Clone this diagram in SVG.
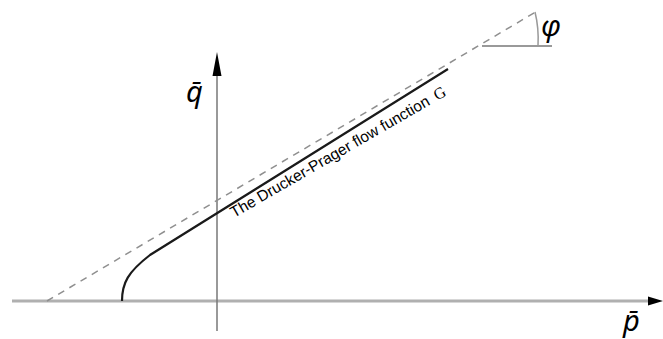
<svg xmlns="http://www.w3.org/2000/svg" width="663" height="339" viewBox="0 0 663 339">
<style>
.axis{stroke:#8a8a8a;fill:none}
.dash{stroke:#8f8f8f;stroke-width:1.5;stroke-dasharray:7,6;fill:none}
.curve{stroke:#1a1a1a;stroke-width:2.2;fill:none}
.lbl{font-family:"Noto Sans","DejaVu Sans",sans-serif;font-style:italic;font-size:29px;fill:#000}
.cap{font-family:"Liberation Sans",Arial,sans-serif;font-size:15.5px;fill:#000}
.g{font-family:"Liberation Serif","Times New Roman",serif;font-size:16px;fill:#000}
</style>
<rect width="663" height="339" fill="#fff"/>
<g id="connectors">
<line class="axis" x1="12" y1="301" x2="650" y2="301" stroke-width="3" style="stroke:#b0b0b0"/>
<polygon points="648,296.5 663,301 648,305.5" fill="#000"/>
<line class="axis" x1="217" y1="331" x2="217" y2="72" stroke-width="1.5" style="stroke:#777"/>
<polygon points="212.5,76 217,52 221.5,76" fill="#000"/>
<line class="dash" x1="47" y1="301" x2="539" y2="10"/>
<line class="axis" x1="482" y1="46" x2="552" y2="46" stroke-width="1.5" style="stroke:#777"/>
<path class="axis" d="M538,46 Q539,28 535,12" stroke-width="1.5" style="stroke:#999"/>
<path class="curve" d="M122,301 C122,283 128,272 150,255 L448,69"/>
</g>
<g id="label-q"><text class="lbl" x="186" y="102">q̄</text></g>
<g id="label-p"><text class="lbl" x="623" y="331">p̄</text></g>
<g id="label-phi"><text class="lbl" x="541" y="36">φ</text></g>
<g id="label-G">
<text transform="translate(234,218) rotate(-30)"><tspan class="cap">The Drucker-Prager flow function </tspan><tspan class="g" dx="3">G</tspan></text>
</g>
</svg>
